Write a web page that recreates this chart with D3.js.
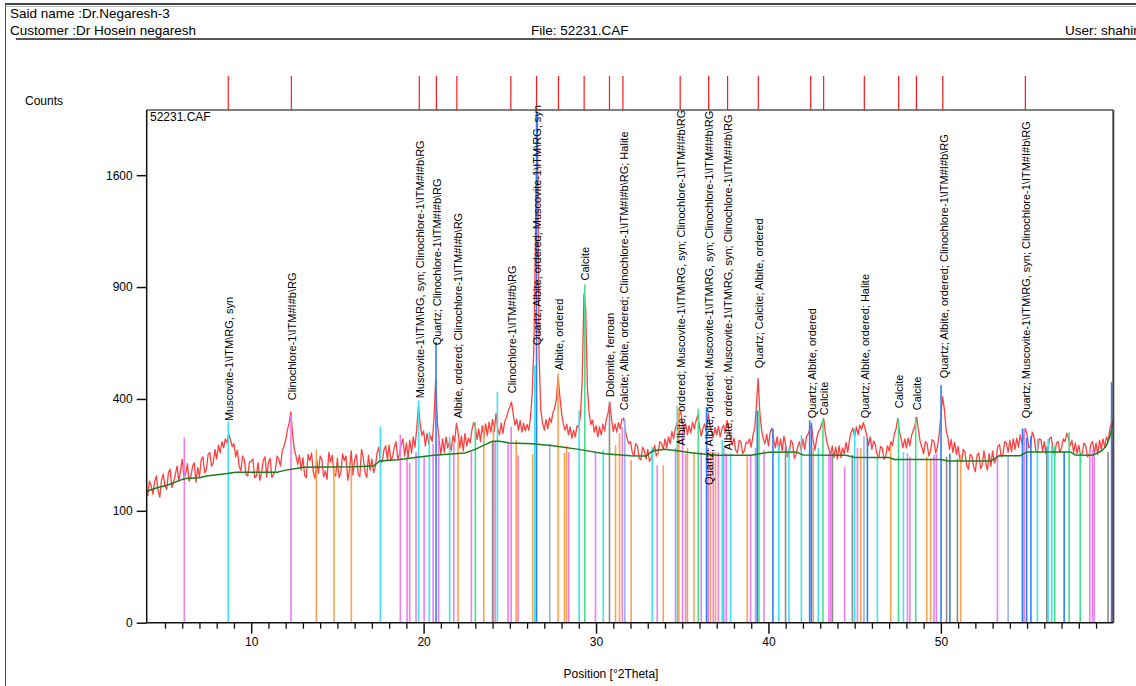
<!DOCTYPE html>
<html>
<head>
<meta charset="utf-8">
<script src="https://cdn.jsdelivr.net/npm/d3@7"></script>
<style>
  body { margin: 0; background: #fff; }
  svg text { font-family: "Liberation Sans", Arial, sans-serif; fill: #000; }
</style>
</head>
<body>
<div id="chart"></div>
<script>
// Measured scan: counts from 4.0 °2Theta in steps of 0.1
const scanStart = 4.0;
const scanStep = 0.1;
const scanCounts = [
  128, 160, 150, 132, 158, 172, 140, 126, 162, 176,
  150, 142, 180, 188, 146, 158, 176, 196, 160, 184,
  214, 168, 176, 202, 160, 170, 196, 204, 158, 192,
  170, 212, 220, 180, 186, 226, 232, 196, 204, 240,
  214, 252, 230, 262, 244, 270, 258, 285, 266, 248,
  256, 220, 238, 196, 184, 222, 212, 176, 172, 206,
  208, 214, 168, 172, 204, 162, 178, 210, 220, 170,
  206, 216, 168, 176, 184, 222, 214, 196, 236, 248,
  266, 296, 318, 355, 286, 240, 222, 200, 224, 186,
  218, 174, 168, 226, 210, 230, 182, 166, 214, 178,
  222, 212, 170, 184, 164, 232, 206, 224, 176, 172,
  216, 168, 180, 228, 210, 222, 162, 186, 236, 174,
  212, 226, 178, 170, 240, 218, 182, 168, 224, 186,
  214, 180, 194, 230, 246, 204, 208, 238, 250, 212,
  252, 210, 220, 246, 262, 214, 226, 254, 270, 222,
  258, 218, 266, 230, 276, 246, 300, 378, 316, 280,
  294, 250, 286, 256, 280, 262, 330, 470, 320, 266,
  226, 270, 232, 276, 244, 262, 236, 280, 260, 317,
  290, 244, 278, 236, 286, 250, 272, 258, 296, 320,
  306, 268, 300, 262, 310, 274, 316, 280, 322, 290,
  330, 292, 350, 300, 282, 318, 286, 322, 336, 356,
  372, 389, 346, 312, 330, 296, 326, 290, 318, 294,
  314, 296, 336, 420, 620, 1300, 2080, 560, 360, 318,
  296, 330, 300, 336, 320, 352, 368, 400, 485, 410,
  352, 318, 296, 314, 282, 306, 272, 296, 276, 310,
  304, 346, 470, 865, 790, 440, 352, 314, 328, 290,
  310, 276, 306, 282, 316, 294, 330, 352, 389, 330,
  292, 316, 290, 320, 300, 330, 334, 296, 270, 256,
  262, 232, 222, 256, 250, 216, 212, 246, 238, 214,
  240, 208, 216, 232, 252, 222, 230, 262, 256, 240,
  270, 244, 276, 256, 292, 270, 302, 318, 336, 360,
  324, 290, 316, 282, 310, 288, 322, 300, 326, 345,
  306, 278, 302, 316, 292, 350, 312, 290, 276, 304,
  282, 308, 276, 300, 312, 290, 327, 298, 268, 252,
  272, 238, 230, 266, 262, 228, 236, 260, 258, 270,
  246, 280, 300, 376, 477, 352, 298, 270, 256, 284,
  250, 290, 302, 268, 244, 276, 238, 270, 236, 278,
  252, 220, 228, 266, 258, 216, 226, 248, 262, 236,
  270, 240, 276, 284, 300, 312, 262, 238, 272, 292,
  300, 318, 333, 288, 258, 242, 222, 250, 218, 246,
  214, 250, 218, 244, 228, 260, 232, 268, 290, 302,
  276, 306, 282, 312, 298, 320, 302, 280, 252, 276,
  240, 264, 252, 226, 218, 248, 244, 214, 220, 250,
  236, 262, 250, 286, 300, 334, 292, 268, 244, 270,
  244, 272, 250, 280, 296, 312, 338, 296, 262, 246,
  228, 262, 256, 222, 236, 268, 262, 230, 246, 284,
  340, 407, 366, 298, 276, 240, 268, 232, 260, 226,
  248, 214, 206, 240, 232, 196, 188, 226, 222, 194,
  182, 224, 230, 190, 198, 236, 204, 186, 228, 196,
  236, 204, 214, 248, 254, 220, 226, 262, 258, 232,
  266, 234, 270, 240, 272, 246, 282, 256, 276, 301,
  282, 244, 250, 290, 276, 238, 232, 270, 268, 236,
  262, 228, 236, 270, 276, 240, 222, 258, 262, 232,
  246, 270, 262, 287, 272, 250, 266, 232, 258, 228,
  252, 224, 230, 258, 250, 220, 226, 254, 262, 230,
  258, 226, 266, 240, 270, 246, 276, 262, 300, 322,
  334
];

// Fitted background [2theta, counts]
const backgroundLine = [
  [3.94, 138], [4.5, 145], [5.2, 152], [6.0, 164], [6.2, 166], [7.0, 168], [7.4, 172],
  [8.6, 178], [9.1, 181], [11.5, 181], [12.0, 186], [12.6, 190], [13.0, 193], [16.0, 194],
  [17.1, 196], [17.45, 209], [18.5, 212], [19.5, 218], [20.6, 224], [22.4, 230], [23.0, 240],
  [23.5, 252], [24.0, 263], [24.4, 263], [25.0, 258], [26.3, 256], [27.5, 250], [29.0, 240],
  [30.5, 228], [32.0, 223], [32.9, 222], [33.3, 236], [34.0, 240], [34.7, 236], [35.6, 230],
  [37.0, 224], [39.0, 224], [40.0, 232], [41.6, 233], [42.0, 225], [44.5, 224], [45.0, 218],
  [47.0, 218], [47.3, 213], [50.0, 213], [50.4, 209], [52.9, 209], [53.4, 223], [54.6, 223],
  [55.0, 233], [57.5, 233], [57.8, 225], [58.8, 224], [59.3, 235], [59.6, 250], [59.85, 285],
  [60.0, 327]
];

// Identified peaks: position, label height (counts), label
const peakPositions = [8.67, 12.33, 19.75, 20.74, 21.93, 25.06, 26.55, 27.82, 29.31, 30.78, 31.56,
  34.88, 36.53, 37.63, 39.41, 42.45, 43.2, 45.56, 47.55, 48.58, 50.11, 54.9];
const peakLabelCounts = [312, 381, 388, 597, 321, 406, 597, 493, 914, 392, 347,
  240, 143, 227, 501, 321, 331, 321, 354, 347, 462, 321];
const peakLabels = [
  "Muscovite-1\\ITM\\RG, syn",
  "Clinochlore-1\\ITM#I#b\\RG",
  "Muscovite-1\\ITM\\RG, syn; Clinochlore-1\\ITM#I#b\\RG",
  "Quartz; Clinochlore-1\\ITM#I#b\\RG",
  "Albite, ordered; Clinochlore-1\\ITM#I#b\\RG",
  "Clinochlore-1\\ITM#I#b\\RG",
  "Quartz; Albite, ordered; Muscovite-1\\ITM\\RG, syn",
  "Albite, ordered",
  "Calcite",
  "Dolomite, ferroan",
  "Calcite; Albite, ordered; Clinochlore-1\\ITM#I#b\\RG; Halite",
  "Albite, ordered; Muscovite-1\\ITM\\RG, syn; Clinochlore-1\\ITM#I#b\\RG",
  "Quartz; Albite, ordered; Muscovite-1\\ITM\\RG, syn; Clinochlore-1\\ITM#I#b\\RG",
  "Albite, ordered; Muscovite-1\\ITM\\RG, syn; Clinochlore-1\\ITM#I#b\\RG",
  "Quartz; Calcite; Albite, ordered",
  "Quartz; Albite, ordered",
  "Calcite",
  "Quartz; Albite, ordered; Halite",
  "Calcite",
  "Calcite",
  "Quartz; Albite, ordered; Clinochlore-1\\ITM#I#b\\RG",
  "Quartz; Muscovite-1\\ITM\\RG, syn; Clinochlore-1\\ITM#I#b\\RG"
];

// Reference patterns [2theta, counts]
const clinochloreSticks = [[6.12, 274], [12.31, 345], [18.65, 283], [19.04, 220], [19.19, 204], [19.56, 233],
  [20.03, 220], [20.55, 256], [20.87, 271], [21.75, 256], [22.77, 233], [24.15, 261], [24.9, 261],
  [25.08, 306], [25.48, 224], [28.42, 233], [29.97, 233], [31.52, 306], [33.55, 198], [34.61, 244],
  [35.02, 296], [35.2, 228], [36.1, 233], [36.51, 244], [36.8, 233], [37.09, 233], [37.41, 244],
  [37.55, 230], [38.96, 225], [39.25, 244], [39.74, 238], [43.51, 229], [43.61, 229], [44.42, 194],
  [45.16, 244], [48.06, 229], [48.2, 220], [49.6, 225], [49.74, 229], [53.28, 229], [54.83, 301],
  [58.64, 238], [58.8, 238], [58.89, 233], [59.98, 250]];
const muscoviteSticks = [[8.67, 324], [17.49, 308], [19.71, 395], [20.33, 291], [21.51, 276], [24.28, 425],
  [26.45, 529], [29.02, 360], [30.42, 238], [33.26, 246], [34.71, 377], [37.32, 266], [37.8, 230],
  [40.6, 252], [41.19, 244], [41.91, 281], [42.89, 244], [45.0, 301], [46.32, 220], [47.83, 233],
  [55.6, 270], [56.22, 270], [56.43, 250]];
const albiteSticks = [[13.78, 240], [14.8, 196], [15.81, 193], [22.0, 263], [23.49, 310], [24.05, 312],
  [25.37, 266], [26.33, 227], [27.8, 497], [28.17, 230], [28.29, 250], [31.13, 252], [31.36, 286],
  [32.04, 211], [33.9, 198], [34.8, 366], [35.3, 244], [35.68, 233], [36.64, 233], [36.93, 233],
  [38.77, 225], [42.6, 244], [45.35, 244], [47.09, 248], [49.18, 220], [49.41, 215], [51.15, 225]];
const quartzSticks = [[20.72, 629], [26.55, 2096], [36.41, 372], [39.35, 360], [40.26, 301], [42.39, 327],
  [42.49, 320], [45.74, 273], [50.01, 450], [50.52, 229], [54.73, 301], [54.97, 273], [55.22, 278],
  [57.15, 233], [59.9, 463]];
const calciteSticks = [[23.0, 322], [29.35, 914], [35.93, 366], [39.45, 360], [43.16, 333], [47.54, 333],
  [48.54, 338], [56.6, 250], [57.44, 290], [58.08, 233]];
const dolomiteSticks = [[24.0, 261], [30.78, 389], [40.99, 248], [43.71, 229], [44.87, 225], [50.33, 220],
  [50.96, 215], [56.14, 248], [59.7, 233]];
const haliteSticks = [[27.32, 256], [31.67, 333], [45.54, 278], [53.9, 225]];

const phaseNames = ["Clinochlore", "Muscovite", "Albite", "Quartz", "Calcite", "Dolomite", "Halite"];
const yTicks = [0, 100, 400, 900, 1600];
const xMajorTicks = [10, 20, 30, 40, 50];

const phaseSticks = [clinochloreSticks, muscoviteSticks, albiteSticks, quartzSticks,
  calciteSticks, dolomiteSticks, haliteSticks];

// ---- drawing ----
const W = 1136, H = 686;
const plot = { left: 146.7, right: 1113.3, top: 110, bottom: 622.7 };

const svg = d3.select("#chart").append("svg")
  .attr("width", W).attr("height", H);

const x = d3.scaleLinear().domain([3.94, 60.0]).range([plot.left, plot.right]);
const y = d3.scaleSqrt().domain([0, 2100]).range([plot.bottom, plot.top]);
const color = d3.scaleOrdinal()
  .domain(phaseNames)
  .range(["#f07ef0", "#3ee4ee", "#ffa24e", "#2a80ff", "#3ee38a", "#8c8c8c", "#9cb2f2"]);

// page frame and header
svg.append("line").attr("x1", 5).attr("x2", W).attr("y1", 4).attr("y2", 4)
  .attr("stroke", "#444").attr("stroke-width", 2);
svg.append("line").attr("x1", 5).attr("x2", W).attr("y1", 6.5).attr("y2", 6.5)
  .attr("stroke", "#bbb").attr("stroke-width", 1);
svg.append("line").attr("x1", 5.5).attr("x2", 5.5).attr("y1", 4).attr("y2", H)
  .attr("stroke", "#555").attr("stroke-width", 1);
svg.append("line").attr("x1", 16).attr("x2", W).attr("y1", 39).attr("y2", 39)
  .attr("stroke", "#555").attr("stroke-width", 2);

const header = [
  { t: "Said name :Dr.Negaresh-3", x: 10, y: 18 },
  { t: "Customer :Dr Hosein negaresh", x: 10, y: 35 },
  { t: "File: 52231.CAF", x: 531, y: 35 },
  { t: "User: shahin", x: 1065, y: 35 }
];
svg.selectAll(".hdr").data(header).enter().append("text")
  .attr("class", "hdr")
  .attr("x", d => d.x).attr("y", d => d.y)
  .style("font-size", "13.5px")
  .text(d => d.t);

svg.append("text").attr("x", 25).attr("y", 105).style("font-size", "12px").text("Counts");

// peak markers above the plot
svg.selectAll(".pk").data(peakPositions).enter().append("line")
  .attr("class", "pk")
  .attr("x1", d => x(d)).attr("x2", d => x(d))
  .attr("y1", 76).attr("y2", plot.top)
  .attr("stroke", "#ff1a1a").attr("stroke-width", 1.2);

// clip
svg.append("clipPath").attr("id", "clip").append("rect")
  .attr("x", plot.left).attr("y", plot.top - 4)
  .attr("width", plot.right - plot.left).attr("height", plot.bottom - plot.top + 4);

const g = svg.append("g").attr("clip-path", "url(#clip)");

// measured pattern
const scan = scanCounts.map((c, i) => [scanStart + i * scanStep, c]);
g.append("path")
  .datum(scan)
  .attr("fill", "none")
  .attr("stroke", "#ff4040")
  .attr("stroke-width", 1.3)
  .attr("stroke-linejoin", "round")
  .attr("d", d3.line().x(d => x(d[0])).y(d => y(d[1])));

// reference sticks
phaseNames.forEach((name, k) => {
  g.selectAll(".st-" + name).data(phaseSticks[k]).enter().append("line")
    .attr("class", "st-" + name)
    .attr("x1", d => x(d[0])).attr("x2", d => x(d[0]))
    .attr("y1", y(0)).attr("y2", d => y(d[1]))
    .attr("stroke", color(name))
    .attr("stroke-width", 1.6);
});

// background
g.append("path")
  .datum(backgroundLine)
  .attr("fill", "none")
  .attr("stroke", "#1c7d1c")
  .attr("stroke-width", 1.5)
  .attr("d", d3.line().x(d => x(d[0])).y(d => y(d[1])));

// peak labels
svg.selectAll(".lbl").data(peakPositions).enter().append("text")
  .attr("class", "lbl")
  .attr("transform", (d, i) => "translate(" + (x(d) + 1) + "," + (y(peakLabelCounts[i]) - 4) + ") rotate(-90)")
  .attr("dy", "0.35em")
  .style("font-size", "11px")
  .text((d, i) => peakLabels[i]);

// plot frame
svg.append("line").attr("x1", plot.left).attr("x2", plot.right).attr("y1", plot.top).attr("y2", plot.top)
  .attr("stroke", "#555").attr("stroke-width", 1.5);
svg.append("line").attr("x1", plot.right).attr("x2", plot.right).attr("y1", plot.top).attr("y2", plot.bottom)
  .attr("stroke", "#444").attr("stroke-width", 2);

// y axis
const yAxis = svg.append("g")
  .attr("transform", "translate(" + plot.left + ",0)")
  .call(d3.axisLeft(y).tickValues(yTicks).tickSize(10).tickPadding(4).tickFormat(d3.format("d")));
yAxis.selectAll("text").style("font-size", "12px");
yAxis.selectAll("line, path").attr("stroke", "#111").attr("stroke-width", 1.5);
yAxis.select(".domain").attr("d", "M0," + plot.top + "V" + plot.bottom);

// x axis: minor then major ticks
const xMinor = svg.append("g")
  .attr("transform", "translate(0," + plot.bottom + ")")
  .call(d3.axisBottom(x).tickValues(d3.range(5, 60).filter(v => v % 10 !== 0)).tickSize(6).tickFormat(""));
xMinor.select(".domain").remove();
xMinor.selectAll("line").attr("stroke", "#111").attr("stroke-width", 1.3);

const xAxis = svg.append("g")
  .attr("transform", "translate(0," + plot.bottom + ")")
  .call(d3.axisBottom(x).tickValues(xMajorTicks).tickSize(11).tickPadding(4));
xAxis.selectAll("text").style("font-size", "12px");
xAxis.selectAll("line, path").attr("stroke", "#111").attr("stroke-width", 1.5);
xAxis.select(".domain").attr("d", "M" + plot.left + ",0H" + plot.right);

// titles
svg.append("text").attr("x", 150).attr("y", 121).style("font-size", "12px").text("52231.CAF");
svg.append("text").attr("x", 611).attr("y", 678).attr("text-anchor", "middle")
  .style("font-size", "12px").text("Position [°2Theta]");
</script>
</body>
</html>
